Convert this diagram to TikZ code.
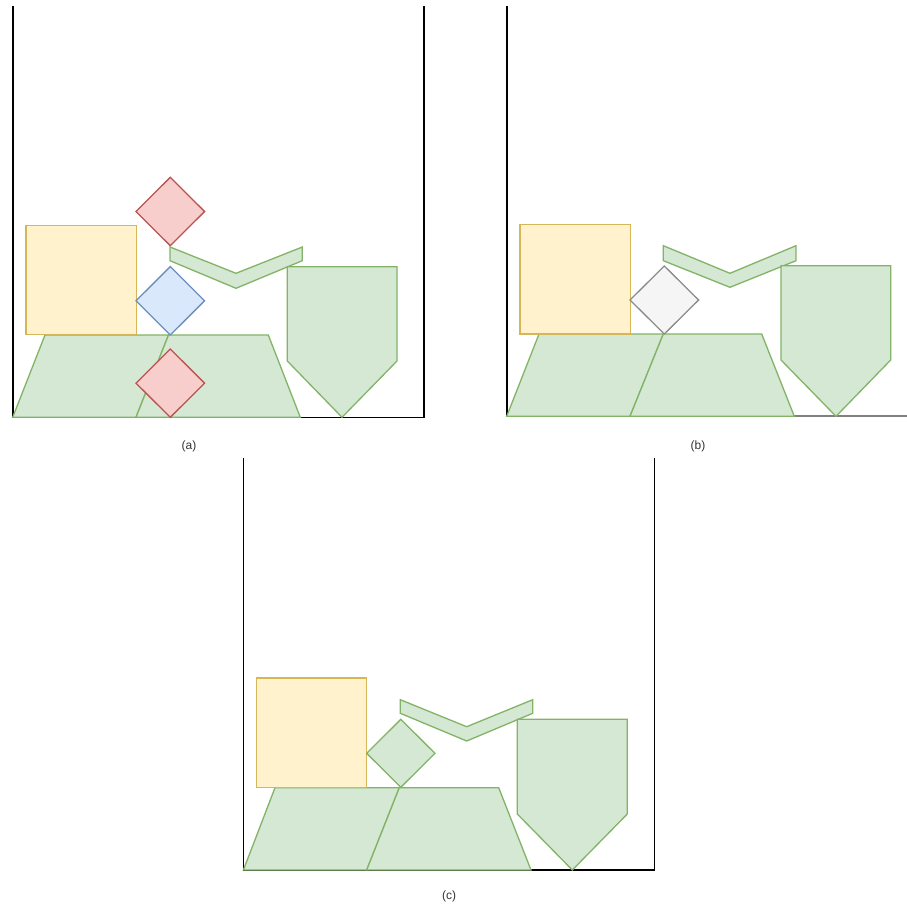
\documentclass[tikz,border=0pt]{standalone}
\usepackage{fontspec}
\setmainfont{Liberation Sans}
\definecolor{gstroke}{RGB}{130,179,102}
\definecolor{gfill}{RGB}{213,232,212}
\definecolor{ystroke}{RGB}{214,182,86}
\definecolor{yfill}{RGB}{255,242,204}
\definecolor{rstroke}{RGB}{184,84,80}
\definecolor{rfill}{RGB}{248,206,204}
\definecolor{bstroke}{RGB}{108,142,191}
\definecolor{bfill}{RGB}{218,232,252}
\definecolor{grstroke}{RGB}{140,140,140}
\definecolor{grfill}{RGB}{245,245,245}
\definecolor{graylinecol}{RGB}{128,128,128}
\definecolor{captext}{RGB}{51,51,51}
\begin{document}
\begin{tikzpicture}[x=1pt,y=-1pt,
  greenshape/.style={draw=gstroke,fill=gfill,line width=1.3pt},
  yellowshape/.style={draw=ystroke,fill=yfill,line width=1.3pt},
  reddia/.style={draw=rstroke,fill=rfill,line width=1.3pt},
  bluedia/.style={draw=bstroke,fill=bfill,line width=1.3pt},
  graydia/.style={draw=grstroke,fill=grfill,line width=1.3pt},
  wall/.style={draw=black,line width=1.6pt},
  graywall/.style={draw=graylinecol,line width=2.2pt},
  caption/.style={font=\fontsize{12}{14}\selectfont,text=captext,inner sep=0pt}
]
\useasboundingbox (0,0) rectangle (907,910);

% ---------- panel (a) ----------
\begin{scope}
  \draw[wall] (12.7,5.5) -- (12.7,417.3) -- (424,417.3) -- (424,5.5);
  \draw[greenshape] (12.7,417.3) -- (45,335) -- (168.5,335) -- (136,417.3) -- cycle;
  \draw[greenshape] (136,417.3) -- (168.5,335) -- (268.3,335) -- (300.3,417.3) -- cycle;
  \draw[yellowshape] (26,225.3) rectangle (136.3,334.7);
  \draw[reddia] (170.3,177.3) -- (204.6,211.5) -- (170.3,245.7) -- (136,211.5) -- cycle;
  \draw[bluedia] (170.3,266.6) -- (204.6,300.8) -- (170.3,335) -- (136,300.8) -- cycle;
  \draw[reddia] (170.3,349) -- (204.6,383.2) -- (170.3,417.3) -- (136,383.2) -- cycle;
  \draw[greenshape] (170,247) -- (236,273.3) -- (302.3,247) -- (302.3,260.7) -- (236,288.3) -- (170,260.7) -- cycle;
  \draw[greenshape] (287.3,266.7) -- (397,266.7) -- (397,361) -- (342,417.3) -- (287.3,361) -- cycle;
  \node[caption] (capa) at (189,446.7) {(a)};
\end{scope}

% ---------- panel (b) ----------
\begin{scope}[shift={(494,-1)}]
  \draw[wall] (12.7,6.5) -- (12.7,417.3) -- (300,417.3);
  \draw[graywall] (300,417.3) -- (413,417.3);
  \draw[greenshape] (12.7,417.3) -- (45,335) -- (169.3,335) -- (136,417.3) -- cycle;
  \draw[greenshape] (136,417.3) -- (169.3,335) -- (267.7,335) -- (300.3,417.3) -- cycle;
  \draw[yellowshape] (26,225.3) rectangle (136.3,335);
  \draw[graydia] (170.3,267) -- (204.6,301) -- (170.3,335) -- (136,301) -- cycle;
  \draw[greenshape] (169.3,246.7) -- (236,274.3) -- (302,246.7) -- (302,261.7) -- (236,288.3) -- (169.3,261.7) -- cycle;
  \draw[greenshape] (287,266.7) -- (396.7,266.7) -- (396.7,361) -- (342,417.3) -- (287,361) -- cycle;
  \node[caption] (capb) at (204,447.7) {(b)};
\end{scope}

% ---------- panel (c) ----------
\begin{scope}[shift={(230.7,452.7)}]
  \draw[wall] (12.7,5.5) -- (12.7,417.3) -- (423.6,417.3) -- (423.6,5.5);
  \draw[greenshape] (12.7,417.3) -- (44.3,335) -- (168.6,335) -- (136,417.3) -- cycle;
  \draw[greenshape] (136,417.3) -- (168.6,335) -- (268,335) -- (300.3,417.3) -- cycle;
  \draw[yellowshape] (26,225.3) rectangle (136,335);
  \draw[greenshape] (170.1,266.6) -- (204.3,300.6) -- (170.1,334.6) -- (136,300.6) -- cycle;
  \draw[greenshape] (169.6,247) -- (236,274) -- (302,247) -- (302,260.6) -- (236,288.3) -- (169.6,260.6) -- cycle;
  \draw[greenshape] (286.6,266.6) -- (396.6,266.6) -- (396.6,361.3) -- (341.6,417.3) -- (286.6,361.3) -- cycle;
  \node[caption] (capc) at (218.3,444) {(c)};
\end{scope}
\end{tikzpicture}
\end{document}
